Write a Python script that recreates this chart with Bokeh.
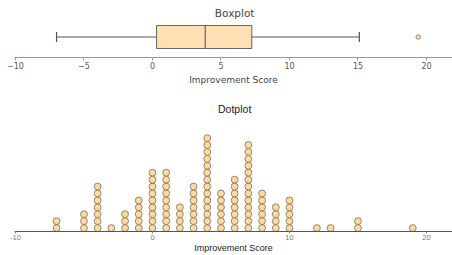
from bokeh.plotting import figure
from bokeh.layouts import column
from bokeh.models import Range1d, FixedTicker, Label
from bokeh.embed import file_html
from bokeh.resources import INLINE

# ---- data ----
# Boxplot statistics of the Improvement Score
box_whisker_low = -7.0
box_q1 = 0.3
box_median = 3.85
box_q3 = 7.25
box_whisker_high = 15.1
box_outliers = [19.4]

# Dotplot: binned scores and the number of dots stacked at each
dot_values = [-7, -5, -4, -3, -2, -1, 0, 1, 2, 3, 4, 5, 6, 7, 8, 9, 10, 12, 13, 15, 19]
dot_counts = [2, 3, 7, 1, 3, 5, 9, 9, 4, 7, 14, 6, 8, 13, 6, 4, 5, 1, 1, 2, 1]

box_ticks = [-10, -5, 0, 5, 10, 15, 20]
box_tick_labels = ["\u221210", "\u22125", "0", "5", "10", "15", "20"]
dot_ticks = [-10, 0, 10, 20]
dot_tick_labels = ["-10", "0", "10", "20"]
axis_title = "Improvement Score"
box_title = "Boxplot"
dot_title = "Dotplot"

# ---- styling ----
X0, X1 = -10.07, 21.9
BOX_FILL = "#FFE0B2"
BOX_LINE = "#666666"
DOT_FILL = "#FDD9A2"
DOT_LINE = "#7d6e58"

# ---- boxplot ----
H1 = 57
p1 = figure(width=452, height=96, x_range=Range1d(X0, X1), y_range=Range1d(0, H1),
            output_backend="svg", toolbar_location=None,
            min_border_left=14, min_border_right=0, min_border_top=0, min_border_bottom=39)
p1.yaxis.visible = False
p1.grid.visible = False
p1.outline_line_color = None
p1.background_fill_color = "white"
p1.border_fill_color = "white"

yc = 20.5
p1.segment(x0=[box_whisker_low, box_q3], y0=[yc, yc], x1=[box_q1, box_whisker_high], y1=[yc, yc],
           line_color="#555555", line_width=1)
p1.segment(x0=[box_whisker_low, box_whisker_high], y0=[yc - 5, yc - 5],
           x1=[box_whisker_low, box_whisker_high], y1=[yc + 5, yc + 5],
           line_color="#555555", line_width=1.2)
p1.hbar(y=[yc], left=[box_q1], right=[box_q3], height=23, fill_color=BOX_FILL,
        line_color=BOX_LINE, line_width=1)
p1.segment(x0=[box_median], y0=[yc - 11.5], x1=[box_median], y1=[yc + 11.5],
           line_color=BOX_LINE, line_width=1.2)
p1.scatter(x=box_outliers, y=[yc] * len(box_outliers), size=4.5, fill_color=BOX_FILL,
           line_color="#9a8a70", line_width=1)

ax = p1.xaxis[0]
ax.ticker = FixedTicker(ticks=box_ticks)
ax.major_label_overrides = dict(zip(box_ticks, box_tick_labels))
ax.minor_tick_line_color = None
ax.axis_line_color = "#999999"
ax.major_tick_line_color = "#999999"
ax.major_tick_out = 3
ax.major_tick_in = 0
ax.major_label_standoff = 1
ax.major_label_text_font = "DejaVu Sans"
ax.major_label_text_font_size = "8px"
ax.major_label_text_color = "#555555"
ax.axis_label = axis_title
ax.axis_label_standoff = 3
ax.axis_label_text_font = "DejaVu Sans"
ax.axis_label_text_font_size = "9px"
ax.axis_label_text_font_style = "normal"
ax.axis_label_text_color = "#444444"

p1.add_layout(Label(x=6.0, y=H1 - 12, text=box_title, text_align="center", text_baseline="middle",
                    text_font="DejaVu Sans", text_font_size="10.5px", text_color="#444444"))

# ---- dotplot ----
H2 = 134
p2 = figure(width=452, height=159, x_range=Range1d(X0, X1), y_range=Range1d(0, H2),
            output_backend="svg", toolbar_location=None,
            min_border_left=14, min_border_right=0, min_border_top=0, min_border_bottom=0)
p2.yaxis.visible = False
p2.grid.visible = False
p2.outline_line_color = None
p2.background_fill_color = "white"
p2.border_fill_color = "white"

step = 6.87
xs, ys = [], []
for v, c in zip(dot_values, dot_counts):
    for k in range(c):
        xs.append(v)
        ys.append(3.4 + step * k)
p2.scatter(x=xs, y=ys, size=6.9, fill_color=DOT_FILL, line_color=DOT_LINE, line_width=0.8)

bx = p2.xaxis[0]
bx.ticker = FixedTicker(ticks=dot_ticks)
bx.major_label_overrides = dict(zip(dot_ticks, dot_tick_labels))
bx.minor_tick_line_color = None
bx.axis_line_color = "#555555"
bx.major_tick_line_color = "#888888"
bx.major_tick_out = 2
bx.major_tick_in = 0
bx.major_label_standoff = 1
bx.major_label_text_font = "Liberation Sans"
bx.major_label_text_font_size = "7.5px"
bx.major_label_text_color = "#777777"
bx.axis_label = axis_title
bx.axis_label_standoff = 0
bx.axis_label_text_font = "Liberation Sans"
bx.axis_label_text_font_size = "9px"
bx.axis_label_text_font_style = "normal"
bx.axis_label_text_color = "#222222"

p2.add_layout(Label(x=6.0, y=H2 - 12, text=dot_title, text_align="center", text_baseline="middle",
                    text_font="Liberation Sans", text_font_size="10.5px", text_color="#222222"))

layout = column(p1, p2, spacing=0)
open("out.html", "w").write(file_html(layout, INLINE))
